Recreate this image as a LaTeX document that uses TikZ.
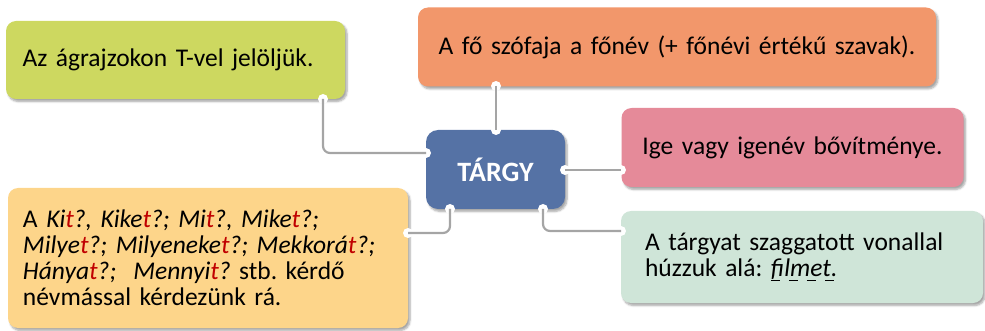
\documentclass[tikz,border=0pt]{standalone}
\usepackage{fontspec}
\setmainfont{Carlito}
\usetikzlibrary{shadows.blur}
\definecolor{cgreen}{HTML}{CDD860}
\definecolor{corange}{HTML}{F2976B}
\definecolor{cpink}{HTML}{E58A99}
\definecolor{clight}{HTML}{FDD58A}
\definecolor{cmint}{HTML}{CFE5D8}
\definecolor{cblue}{HTML}{5572A5}
\definecolor{cline}{HTML}{A5A5A5}
\definecolor{cred}{HTML}{C00000}
\frenchspacing
\newcommand{\rt}{\textcolor{cred}{t}}
\newcommand{\dashu}[1]{\setbox0\hbox{#1}\rlap{\copy0}\raisebox{-5pt}{\hbox to \dimexpr\wd0+3pt\relax{\rule{9pt}{1.3pt}\hfill\rule{9pt}{1.3pt}\hfill\rule{9pt}{1.3pt}\hfill\rule{9pt}{1.3pt}}}\kern-3pt}
\begin{document}
\begin{tikzpicture}[x=1pt,y=-1pt,
  box/.style={rectangle, rounded corners=10pt, inner xsep=0pt, inner ysep=0pt,
    font=\fontsize{25.5}{26}\selectfont,
    blur shadow={shadow blur steps=6, shadow xshift=2pt, shadow yshift=-2.5pt, shadow opacity=35}},
  conn/.style={draw=cline, line width=2.2pt, rounded corners=7pt},
  notch/.style={circle, fill=white, inner sep=0pt, minimum size=10pt}]
\useasboundingbox (0,0) rectangle (985,331);
% boxes
\node[box, fill=cgreen, minimum width=339pt, minimum height=78pt, text width=306pt, align=left] (green) at (175.5,60) {Az ágrajzokon T-vel jelöljük.};
\node[box, fill=corange, minimum width=518pt, minimum height=79pt, text width=505pt, align=center] (orange) at (677,47) {A fő szófaja a főnév (+ főnévi értékű szavak).};
\node[box, fill=cpink, minimum width=342pt, minimum height=79pt, text width=330pt, align=center] (pink) at (792.5,147.5) {Ige vagy igenév bővítménye.};
\node[box, fill=clight, minimum width=400pt, minimum height=140pt, text width=370pt, align=left] (light) at (208,258) {A \textit{Ki\rt?, Kike\rt?; Mi\rt?, Mike\rt?;}\\ \textit{Milye\rt?; Milyeneke\rt?; Mekkorá\rt?;}\\ \textit{Hánya\rt?;\ \ Mennyi\rt?} stb. kérdő\\ névmással kérdezünk rá.};
\node[box, fill=cmint, minimum width=362pt, minimum height=92pt, text width=314pt, align=left] (mint) at (802,257) {A tárgyat szaggatott vonallal\\ húzzuk alá: \textit{\dashu{filmet}.}};
\node[box, rounded corners=12pt, fill=cblue, minimum width=139pt, minimum height=79pt, text=white, font=\fontsize{28}{30}\selectfont\bfseries] (targy) at (495.5,169.5) {TÁRGY};
% notch coordinates
\coordinate (gn) at (323,99);
\coordinate (on) at (496,86);
\coordinate (pn) at (621,170);
\coordinate (ln) at (408,233);
\coordinate (mn) at (621,231);
\coordinate (tl) at (426,153);
\coordinate (tt) at (496,130);
\coordinate (tr) at (565,170);
\coordinate (tbl) at (450,209);
\coordinate (tbr) at (543,209);
% notches
\foreach \p in {gn,on,pn,ln,mn,tl,tt,tr,tbl,tbr} \node[notch] at (\p) {};
% connectors
\draw[conn] (gn) |- (tl);
\draw[conn] (on) -- (tt);
\draw[conn] (tr) -- (pn);
\draw[conn] (tbl) |- (ln);
\draw[conn] (tbr) |- (mn);
\end{tikzpicture}
\end{document}
